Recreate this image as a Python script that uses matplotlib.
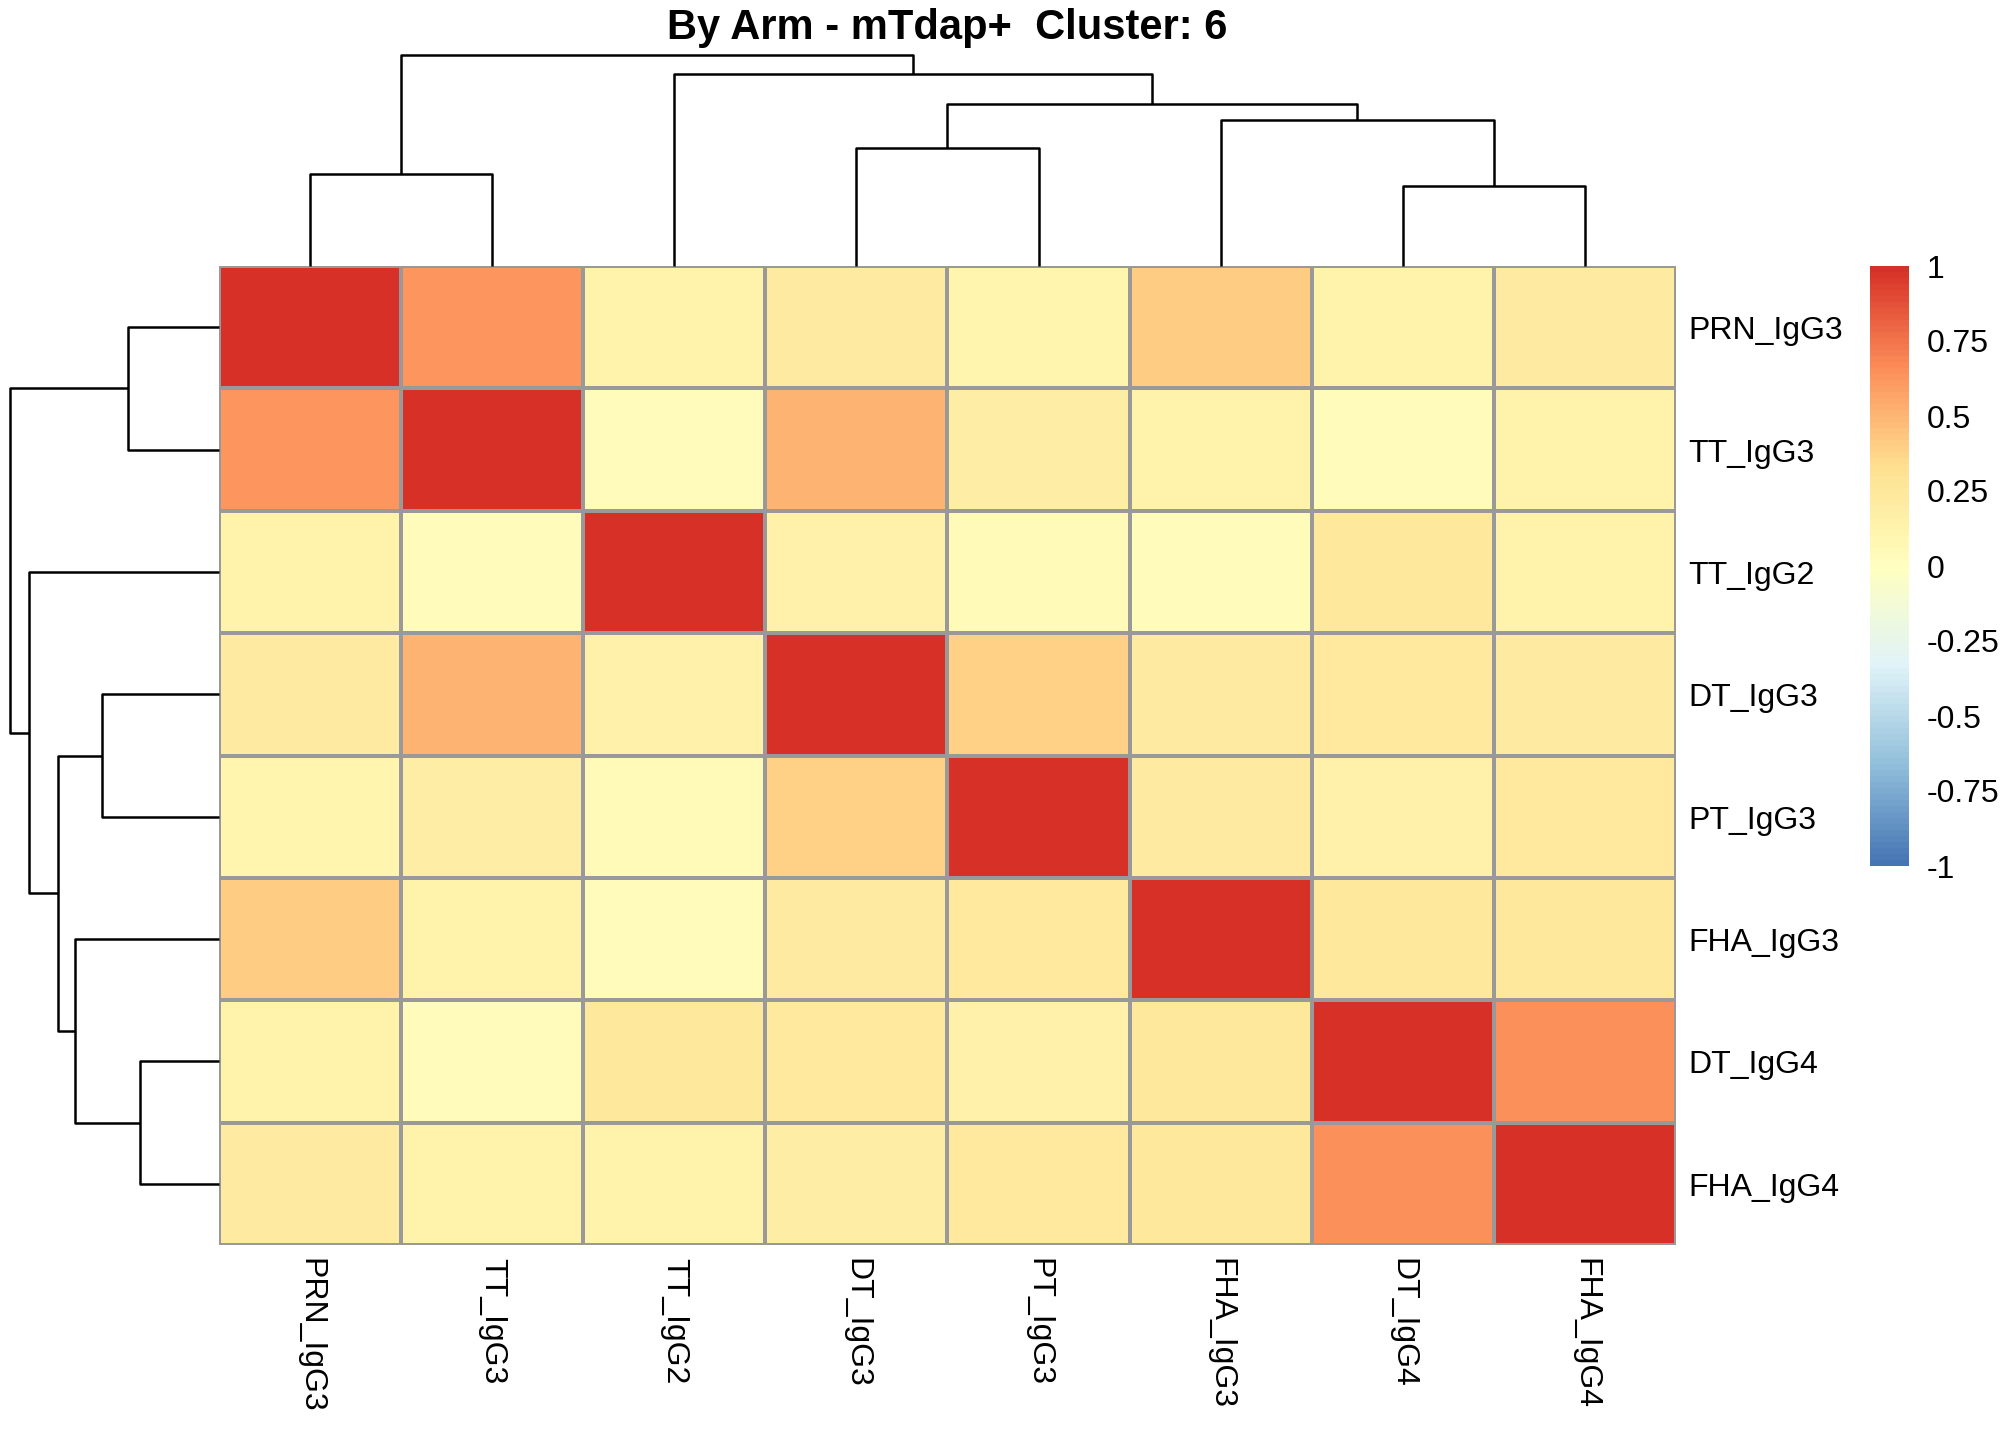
import numpy as np
import matplotlib
matplotlib.use("Agg")
import matplotlib.pyplot as plt
from matplotlib.colors import ListedColormap, to_rgb

plt.rcParams['font.family'] = ['Liberation Sans', 'DejaVu Sans']

# ---------------- data ----------------
labels = ["PRN_IgG3", "TT_IgG3", "TT_IgG2", "DT_IgG3", "PT_IgG3",
          "FHA_IgG3", "DT_IgG4", "FHA_IgG4"]

row_PRN_IgG3 = [1.00, 0.62, 0.12, 0.20, 0.10, 0.40, 0.13, 0.20]
row_TT_IgG3  = [0.62, 1.00, 0.03, 0.50, 0.18, 0.13, 0.03, 0.12]
row_TT_IgG2  = [0.12, 0.03, 1.00, 0.15, 0.05, 0.02, 0.25, 0.12]
row_DT_IgG3  = [0.20, 0.50, 0.15, 1.00, 0.38, 0.20, 0.23, 0.20]
row_PT_IgG3  = [0.10, 0.18, 0.05, 0.38, 1.00, 0.20, 0.15, 0.23]
row_FHA_IgG3 = [0.40, 0.13, 0.02, 0.20, 0.23, 1.00, 0.25, 0.25]
row_DT_IgG4  = [0.13, 0.03, 0.25, 0.23, 0.15, 0.25, 1.00, 0.65]
row_FHA_IgG4 = [0.20, 0.12, 0.12, 0.18, 0.23, 0.25, 0.65, 1.00]

# hierarchical clustering merges (leaf indices in display order; new clusters 8..14)
merge_left  = [6, 0, 3, 5, 10, 2, 9]
merge_right = [7, 1, 4, 8, 11, 12, 13]
merge_height = [0.38, 0.435, 0.56, 0.69, 0.77, 0.91, 1.00]

colorbar_ticks = [-1, -0.75, -0.5, -0.25, 0, 0.25, 0.5, 0.75, 1]
colorbar_ticklabels = ["-1", "-0.75", "-0.5", "-0.25", "0", "0.25", "0.5", "0.75", "1"]

title = "By Arm - mTdap+  Cluster: 6"

# ---------------- colormap (pheatmap default) ----------------
anchors = ["#4575B4", "#91BFDB", "#E0F3F8", "#FFFFBF", "#FEE090", "#FC8D59", "#D73027"]
anc = np.array([to_rgb(c) for c in anchors])
t = np.linspace(0, 1, 100)
pos = np.linspace(0, 1, len(anchors))
cols = np.stack([np.interp(t, pos, anc[:, k]) for k in range(3)], axis=1)
cmap = ListedColormap(cols)

mat = np.array([row_PRN_IgG3, row_TT_IgG3, row_TT_IgG2, row_DT_IgG3,
                row_PT_IgG3, row_FHA_IgG3, row_DT_IgG4, row_FHA_IgG4])
n = len(labels)

W, H = 2016, 1440
fig = plt.figure(figsize=(W / 100, H / 100), dpi=100)

def px_axes(l, t_, r, b):
    return fig.add_axes([l / W, 1 - b / H, (r - l) / W, (b - t_) / H])

hm_l, hm_t, hm_r, hm_b = 219, 266, 1676, 1245

# heatmap
ax = px_axes(hm_l, hm_t, hm_r, hm_b)
mesh = ax.pcolormesh(np.arange(n + 1), np.arange(n + 1), mat, cmap=cmap,
                     vmin=-1, vmax=1, edgecolors="#999999", linewidth=1.6)
ax.set_xlim(0, n)
ax.set_ylim(n, 0)
ax.set_axis_off()

# labels
for i, lab in enumerate(labels):
    yc = hm_t + (i + 0.5) * (hm_b - hm_t) / n + 4
    fig.text(1688 / W, 1 - yc / H, lab, ha="left", va="center", fontsize=23)
    xc = hm_l + (i + 0.5) * (hm_r - hm_l) / n
    fig.text(xc / W, 1 - 1258 / H, lab, ha="center", va="top", rotation=270,
             fontsize=23)

# dendrogram coordinates
def dendro_segments():
    posx = {i: float(i) + 0.5 for i in range(n)}
    hts = {i: 0.0 for i in range(n)}
    segs = []
    for k, (a, b, h) in enumerate(zip(merge_left, merge_right, merge_height)):
        node = n + k
        xa, xb = posx[a], posx[b]
        segs.append(([xa, xa, xb, xb], [hts[a], h, h, hts[b]]))
        posx[node] = (xa + xb) / 2
        hts[node] = h
    return segs

segs = dendro_segments()
root = max(merge_height)

# column dendrogram
axc = px_axes(hm_l, 55, hm_r, hm_t)
for xs, ys in segs:
    axc.plot(xs, ys, color="black", lw=1.8, clip_on=False, solid_capstyle="butt")
axc.set_xlim(0, n)
axc.set_ylim(0, root)
axc.set_axis_off()

# row dendrogram
axr = px_axes(10, hm_t, hm_l, hm_b)
for xs, ys in segs:
    axr.plot(ys, xs, color="black", lw=1.8, clip_on=False, solid_capstyle="butt")
axr.set_ylim(n, 0)
axr.set_xlim(root, 0)
axr.set_axis_off()

# colorbar
cax = px_axes(1870, 266, 1909, 866)
cb = fig.colorbar(mesh, cax=cax, ticks=colorbar_ticks)
cb.outline.set_visible(False)
cb.ax.set_yticklabels(colorbar_ticklabels)
cb.ax.tick_params(length=0, labelsize=23, pad=13)

fig.text(947 / W, 1 - 28 / H, title, ha="center", va="center",
         fontsize=30, fontweight="bold")

fig.savefig("out.png", dpi=100)
